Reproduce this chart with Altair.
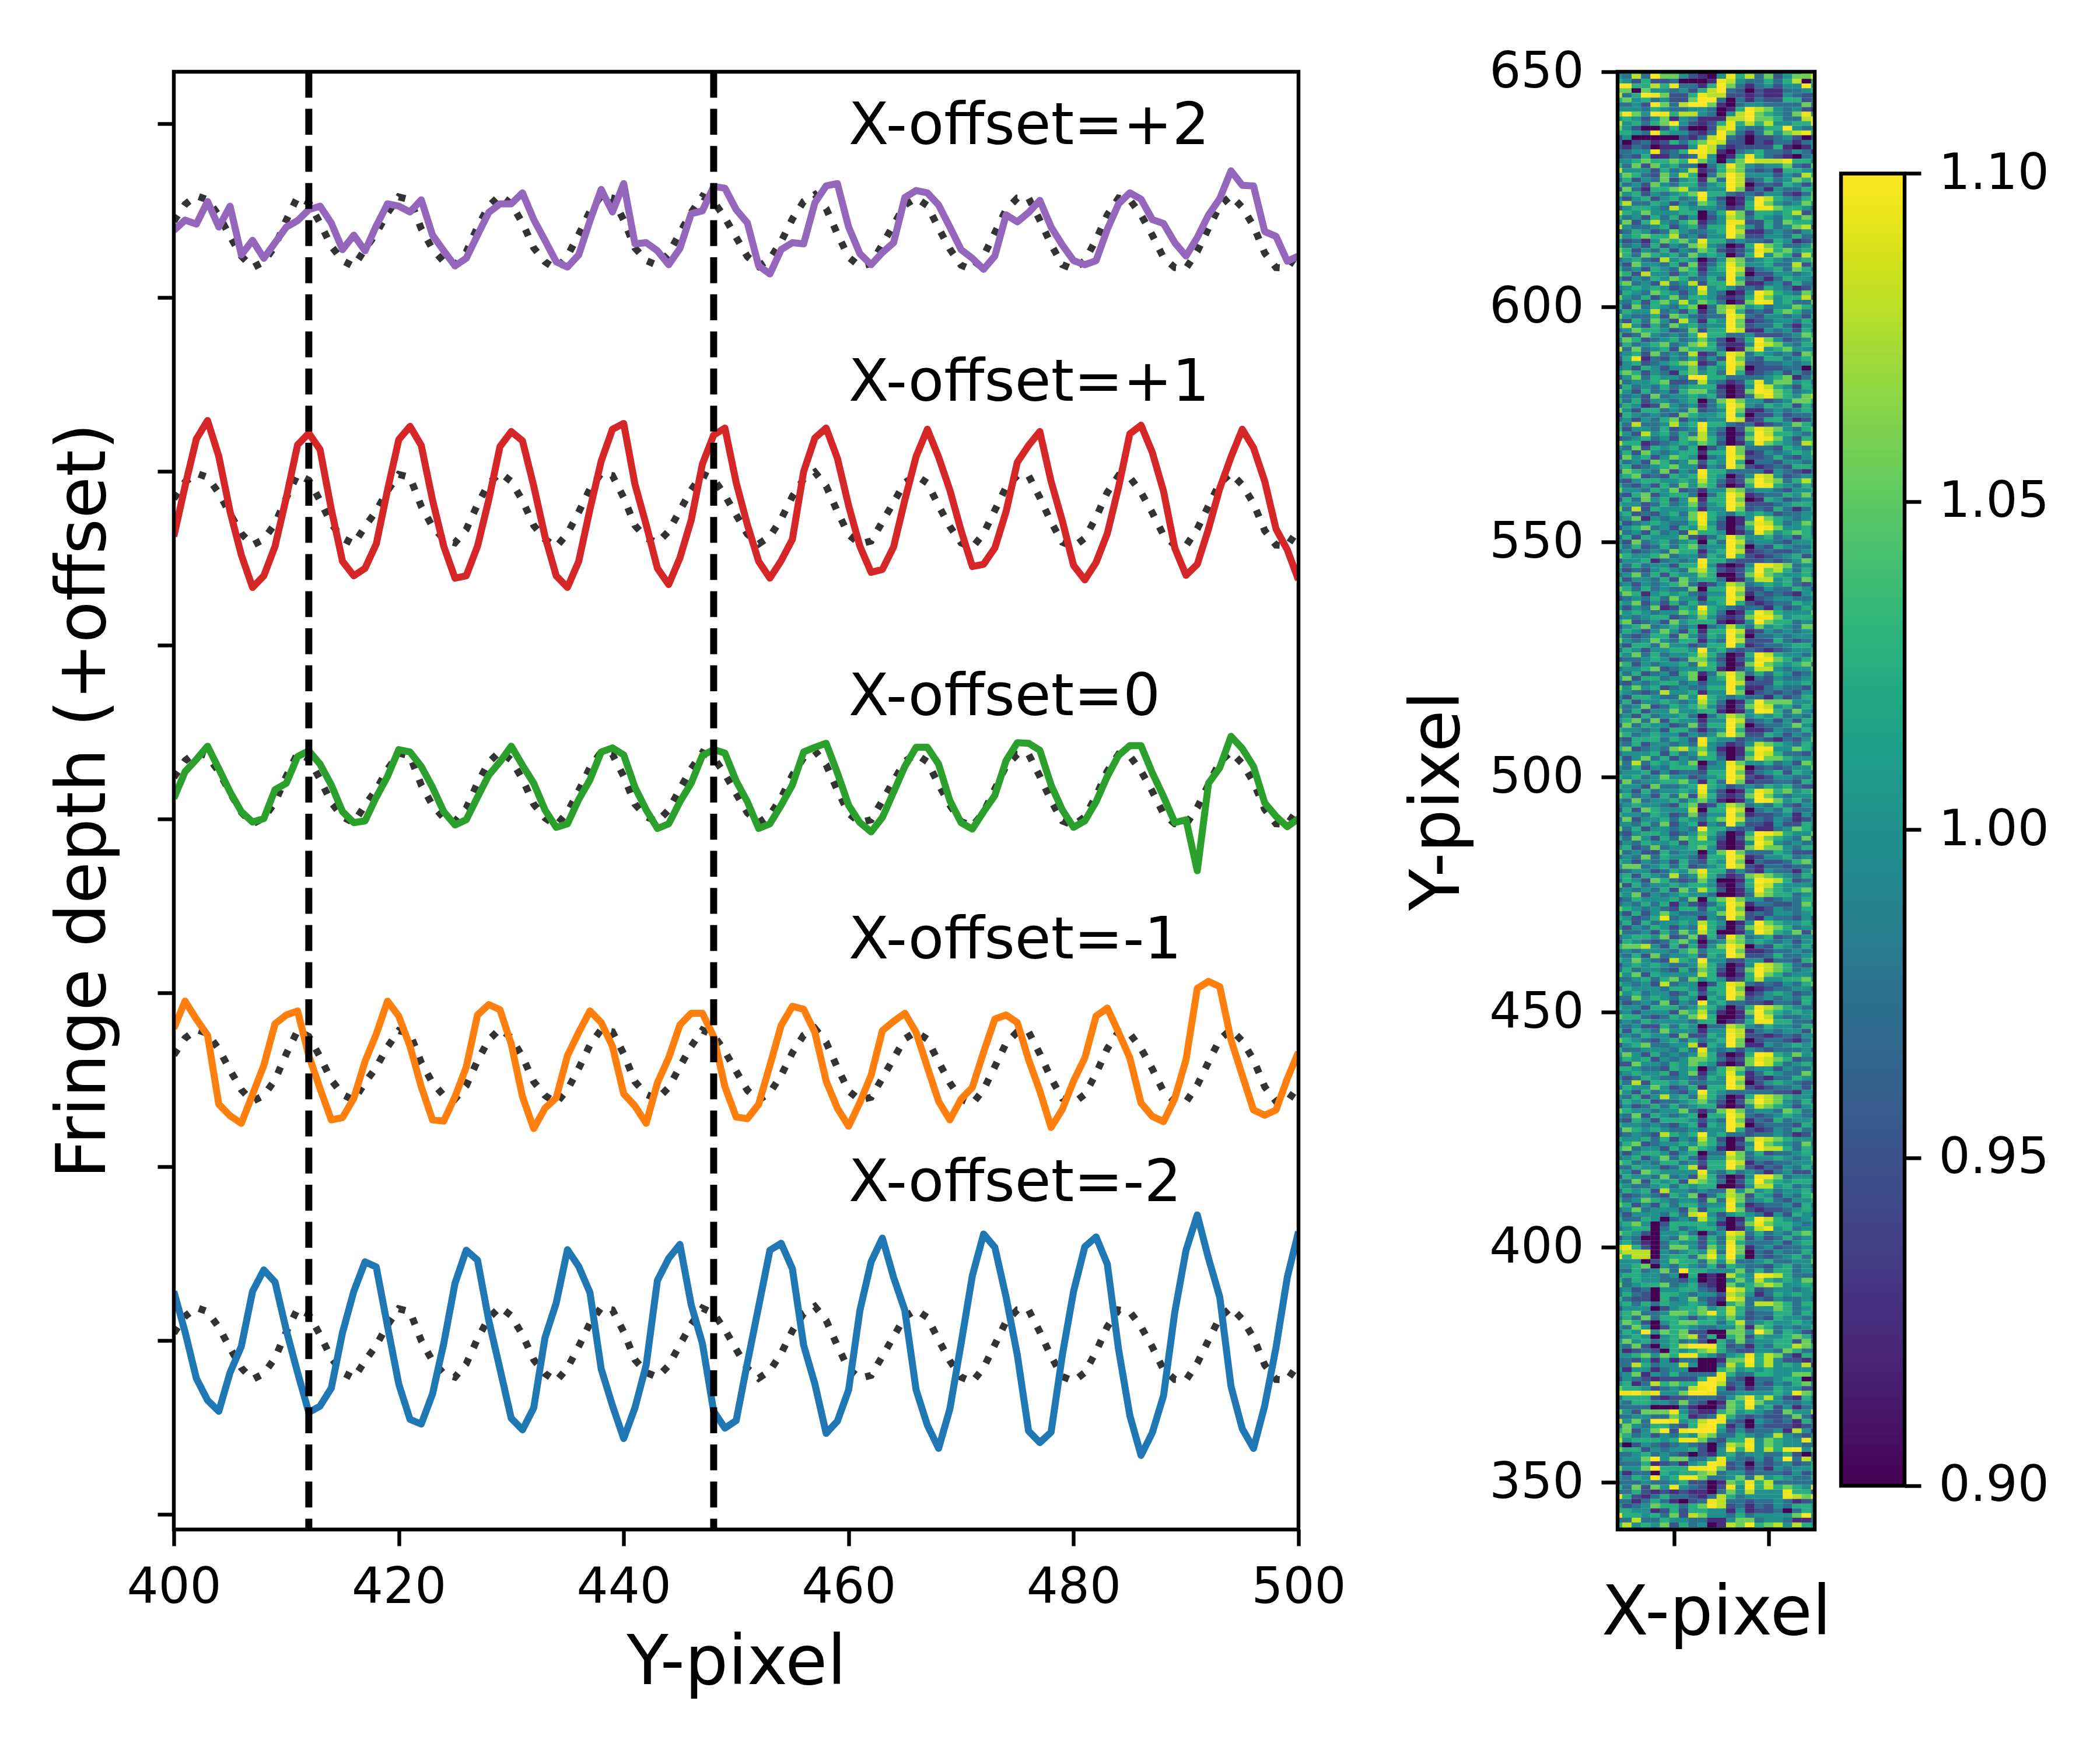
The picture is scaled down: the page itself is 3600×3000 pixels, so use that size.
import altair as alt
import numpy as np
import pandas as pd

alt.data_transformers.disable_max_rows()

y_pixel = list(range(400, 501))

# fringe depth per Y-pixel, in thousandths, around each trace's own offset
model = [18, 47, 62, 55, 28, -8, -42, -62, -52, -25, 20, 60, 50, 15, -25, -50, -60, -30, -3, 32,
         60, 55, 5, -30, -52, -58, -35, 8, 44, 63, 48, 15, -28, -52, -65, -42, -5, 35, 62, 58,
         20, -28, -50, -58, -38, -2, 33, 61, 52, 24, -10, -43, -60, -47, -17, 22, 52, 64, 40, -4,
         -44, -60, -55, -22, 12, 46, 58, 45, 6, -30, -58, -66, -42, -2, 38, 58, 58, 20, -22, -57,
         -65, -50, -14, 29, 58, 55, 29, -6, -45, -62, -63, -34, 6, 45, 62, 42, 10, -37, -62, -63, -35]
plus_two = [2, 20, 13, 52, 8, 44, -40, -15, -46, -19, 8, 19, 38, 44, 15, -31, -6, -33, 10, 48,
            44, 34, 55, -6, -33, -59, -46, -6, 33, 48, 48, 67, 21, -15, -52, -61, -40, 19, 73, 34,
            83, -21, -19, -33, -57, -29, 31, 36, 78, 75, 38, 15, -59, -73, -31, -19, -21, 50, 79, 83,
            8, -38, -57, -36, -19, 59, 71, 67, 46, 8, -31, -46, -65, -42, 29, 17, 33, 54, 8, -23,
            -50, -57, -50, 4, 48, 67, 56, 21, 14, -19, -42, -10, 29, 57, 105, 80, 79, 0, -8, -51, -42]
plus_one = [-47, 40, 121, 153, 91, -4, -79, -135, -115, -64, 20, 111, 131, 103, 0, -90, -115, -102, -60, 33,
            120, 143, 110, 16, -64, -119, -115, -64, 16, 108, 134, 118, 40, -47, -115, -135, -90, 0, 83, 138,
            148, 43, -27, -102, -130, -84, -19, 78, 128, 140, 46, -27, -90, -119, -89, -52, 65, 123, 140, 88,
            6, -64, -109, -104, -65, 16, 91, 138, 90, 33, -37, -99, -95, -67, -4, 81, 110, 134, 48, -20,
            -97, -122, -92, -42, 38, 130, 145, 98, 31, -67, -114, -95, -34, 36, 90, 138, 106, 48, -34, -70, -122]
zero = [-18, 28, 49, 72, 33, -7, -41, -59, -53, -3, 8, 54, 64, 41, 5, -41, -60, -57, -16, 20,
        66, 62, 37, 1, -41, -64, -55, -16, 22, 45, 72, 39, 8, -38, -68, -62, -20, 14, 62, 69,
        57, 1, -38, -70, -62, -24, 8, 56, 66, 60, 12, -24, -70, -62, -30, 5, 62, 70, 77, 26,
        -30, -60, -76, -51, -7, 37, 70, 70, 41, -22, -60, -71, -41, -13, 47, 78, 77, 65, 5, -38,
        -68, -57, -24, 20, 56, 73, 73, 26, -15, -60, -55, -143, 8, 35, 89, 68, 37, -26, -49, -67, -53]
minus_one = [64, 111, 80, 52, -67, -87, -100, -50, 0, 72, 87, 94, 17, -40, -94, -90, -57, 7, 54, 111,
             85, 33, -37, -94, -96, -54, -3, 87, 105, 96, 37, -54, -109, -74, -56, 17, 57, 94, 74, 33,
             -49, -70, -100, -30, 13, 70, 90, 90, 50, -37, -89, -92, -67, 0, 69, 102, 97, 57, -27, -74,
             -105, -64, -17, 60, 76, 90, 57, -3, -62, -94, -58, -38, 23, 80, 87, 74, 10, -44, -107, -76,
             -27, 13, 85, 99, 57, 13, -65, -88, -97, -57, 10, 133, 145, 136, 44, -17, -77, -86, -77, -23, 23]
minus_two = [90, 20, -60, -98, -117, -50, -5, 90, 127, 106, 23, -50, -119, -108, -77, 19, 90, 141, 132, 30,
             -70, -131, -139, -87, 0, 104, 161, 144, 40, -44, -129, -149, -111, 10, 70, 162, 133, 88, -44, -107,
             -164, -111, -37, 109, 147, 171, 67, 0, -117, -146, -133, -33, 64, 161, 173, 129, -3, -70, -155, -134,
             -80, 57, 141, 182, 114, 57, -80, -141, -181, -113, 0, 117, 189, 166, 80, -20, -151, -171, -153, -20,
             90, 167, 184, 137, -10, -124, -193, -154, -90, 54, 161, 222, 147, 80, -74, -147, -181, -107, -7, 114, 193]

trace_values = [minus_two, minus_one, zero, plus_one, plus_two]
trace_offsets = [-905, -425, 54, 535, 1014]
trace_colors = ["#1f77b4", "#ff7f0e", "#2ca02c", "#d62728", "#9467bd"]
trace_names = ["-2", "-1", "0", "+1", "+2"]

label_text = ["X-offset=+2", "X-offset=+1", "X-offset=0", "X-offset=-1", "X-offset=-2"]
label_x = [460, 460, 460, 460, 460]
label_y = [1165, 722, 180, -240, -659]
fringe_edges = [412, 448]
depth_ticks = [-1200, -900, -600, -300, 0, 300, 600, 900, 1200]

# one string per detector row, from Y-pixel 650 downwards; each digit indexes heat_levels
heat_levels = [0.90, 0.925, 0.95, 0.975, 1.00, 1.025, 1.055, 1.08, 1.095, 1.11]
heat_rows = [
    "3462755320047464635577", "4373966421048573624668", "5425223000187433535705", "9955758331596313424494", "6606443425793202113345",
    "7359862258772212114322", "5645342269930313225523", "3342963799610344333363", "4443543344301597643421", "6964985774304796543684",
    "4542461431117796653378", "7453569421258575744559", "6420025200278433559434", "5543954421396313646785", "2400000213793202234202",
    "3023125356872202133134", "2132011149731222251014", "3344823599710345332431", "2325113238401585321034", "4456556596404697778553",
    # 630
    "536264533 035864 3446326", "744425347 125763 2315544", "465326475 036974 4424375", "352436245 163972 3534657", "534264355 245970 2325425",
    "263155674 344961 3143355", "645243456 955323 2442136", "424524534 842014 9754356", "573354243 653015 9643464", "245543754 443125 8865542",
    "754644455 035862 5545724", "534253524 024763 5435465", "362574356 134882 2536554", "743345245 255964 2534672", "235423643 345971 1343245",
    "645655734 244962 2443533", "423146564 855343 3254124", "534252436 743015 9653346", "652435243 652124 8756455", "753654536 454025 9465274",
    "345327454 024763 4543456", "426443526 135864 4533725", "534254365 145971 3453653", "652744245 244960 2244345", "424354653 353952 3135443",
    "563427347 255961 1342533", "345454234 845423 2543124", "254365424 743014 9754364", "643524635 542125 8645572", "435256474 653016 9845336",
    # 600
    "526354356 036764 5344654", "354473425 136852 3256534", "643352653 233973 2443425", "425364274 154961 2344353", "574253645 344962 3353144",
    "346554236 255971 1434253", "523643435 955334 2223465", "465234534 642025 9642346", "253456346 752114 8764355", "736345265 553016 9456444",
    "345263437 125873 5434265", "258132435 242963 2553456", "145234567 125972 2334346", "342542446 354960 2223305", "565243156 453951 2342424",
    "246354439 955333 3456135", "634456223 743125 8466453", "253435345 551014 9754254", "642534256 642016 9865345", "434263445 452013 7865467",
    "535244345 036864 4234665", "354126434 135974 3545253", "642553436 234961 1343454", "154343265 445950 2242334", "342435624 344971 2553124",
    "537334745 955323 1234653", "524435234 843026 8764356", "642745353 742015 9755435", "234534256 753026 9864255", "755123454 652014 8654376",
    # 570
    "436254535 024963 3325435", "352643455 155961 2434546", "264524654 034972 2353245", "534265346 254950 3324434", "452345644 143962 1232554",
    "265436243 955333 3143213", "456232545 854024 8742344", "324554454 753126 9763574", "532425364 652015 9854353", "644354623 144763 4432445",
    "325624553 035971 2335463", "253645247 155960 1542344", "544235346 245972 2234554", "637254445 144962 3253135", "452324536 854354 5423344",
    "346143446 953014 9654345", "523454335 842016 8753464", "245634254 752025 9864453", "634253427 554013 8645653", "352544462 135864 4534254",
    "426345345 053973 4432445", "535235356 344960 3254335", "342343655 145971 2322345", "654456344 254952 1234524", "244513434 955322 2323465",
    "535344255 841014 9876344", "423245436 752125 9675354", "346352544 650026 8654453", "524435264 553014 7745365", "342434563 124763 4545324",
    # 540
    "653534336 055972 2433542", "465145453 244961 3232145", "234353644 155970 2344334", "546242535 345952 1233545", "424361254 954323 3142354",
    "645434465 753015 9754446", "343455234 642126 8864555", "562342645 551014 9655344", "245634534 034753 6454366", "354246425 155971 2434345",
    "532355264 254960 3343444", "643464355 143972 2253234", "425536442 355951 2334553", "354244554 945323 2123445", "546353445 753015 9754435",
    "233454236 642024 8865356", "652434453 753016 9654563", "344562344 551024 7743446", "535234256 136863 5354235", "462553446 045960 3243345",
    "324345534 244972 2254454", "646452343 355951 1343325", "543237445 144960 2323244", "425543364 854343 3142355", "352445434 753015 9666445",
    "534623545 642026 8745354", "635244644 551014 9853643", "342534453 035764 5453435", "456362544 144972 3424255", "263544236 255960 2334643",
    # 510
    "544342553 134951 1243354", "653454424 346962 2542435", "325553542 954423 3213246", "435244343 843124 7654354", "562343675 641016 9844653",
    "344452534 752015 8753325", "524635243 553026 9665444", "637354546 034864 4534265", "435243555 144970 2323446", "344524233 255961 3452543",
    "545346442 345972 1244335", "263445564 153961 2233254", "544263345 954234 3545322", "342534454 842015 8756456", "653425362 752126 9643445",
    "436344535 641014 9864535", "345443256 125763 4353244", "252654447 055970 3435334", "544354236 244961 2234142", "362445354 356973 3243124",
    "443536245 143952 2142254", "635244343 955323 1134653", "324554234 653015 9875446", "536425365 742026 8654362", "243544525 551014 9743434",
    "452363445 641016 8664355", "634225344 046963 3354222", "343635443 155971 2445343", "542434253 254960 3223564", "466345352 345972 1332334",
    # 480
    "234423546 855242 1433146", "452543734 753126 7654354", "354265323 640015 9875234", "625344545 541025 8754443", "343435264 752014 9654565",
    "546243454 430013 7655345", "235444536 056864 4234355", "343535142 135971 3322364", "654343255 254960 1243355", "425246433 346972 3244345",
    "542358344 143962 1433242", "352534454 754014 9654453", "424354243 853026 8765344", "633425364 750014 9754626", "345546236 152863 4523344",
    "254323564 034764 5434245", "566742525 146970 3254353", "343444356 355961 1233434", "435263445 254972 2353345", "546432754 944224 4133256",
    "245454334 753014 8765323", "353443253 652026 9765345", "646254444 751015 9653443", "334535636 454125 7445564", "543427344 025873 2324356",
    "254443554 155960 1233442", "645344235 245971 2454234", "336454354 054962 3434354", "423436243 945332 2133253", "544255534 653025 8765433",
    # 450
    "342444265 741016 9654545", "655323546 850014 9743345", "343544443 550125 8855332", "434225354 033764 3544355", "525436444 144871 3434426",
    "343544262 254972 2123244", "654324535 345960 2332135", "245633447 154961 1434545", "533444353 843424 3233342", "464253434 752015 9854645",
    "354524346 653126 8765233", "226443546 541016 9753454", "554332545 035763 4424335", "345445246 145851 3543364", "423543343 254971 2133544",
    "537255453 344960 2454323", "354464235 155972 1233425", "642534324 954333 3322144", "435247453 753015 8765443", "354523345 642026 9764353",
    "242353534 551014 7654245", "654434463 136863 4436534", "436254345 055973 2345433", "325425554 243961 3253445", "544343245 154970 2333254",
    "365454334 344952 1243534", "234327545 945332 3343125", "544535243 752016 8765444", "356234454 653024 9654363", "563442536 541015 9775354",
    # 420
    "424554245 033863 5233454", "345246353 144763 4454346", "653435534 255971 3233445", "335442357 155962 1324353", "542654444 843534 3134225",
    "254436342 752014 8863443", "436254527 653025 9654554", "543345354 550014 7745342", "354527443 433746 4534453", "423432546 135762 5424356",
    "534654344 263863 4532445", "652425355 344951 2334253", "346344426 255962 1223454", "424443537 842454 3142543", "533540343 753015 9754345",
    "456402555 541026 8655434", "345503534 553014 7845344", "654204453 034873 5343565", "243004365 253762 4235345", "453103544 253853 3342455",
    "785203664 264961 3423344", "677704345 473960 3243354", "857704553 685950 3234535", "444024655 364733 4533446", "445604354 352543 3245343",
    "335346395 544463 5355344", "455443405 010754 9875333", "535443324 010464 7545466", "634556345 210645 6764454", "342304455 320875 2344345",
    # 390
    "353205543 442764 1354544", "532205346 321873 3243343", "453535445 420563 7765355", "244402455 645753 4465345", "456334665 685752 3355354",
    "353635542 454642 3254434", "465204566 553573 4544543", "436402554 334461 6534345", "354946562 200664 9635421", "345404567 250562 5445652",
    "464534534 205363 4455262", "436204579 995231 4355765", "412320545 675322 4436533", "445646588 542458 5763154", "332414133 001669 5742213",
    "337534474 003758 5745471", "414413440 005645 4544444", "346143533 338533 5544663", "243212222 598320 3345501", "451375655 997230 3243563",
    "655423437 894131 3354422", "889784469 983344 4454865", "355521223 332468 5742153", "435544363 201659 6443343", "333300031 002658 4524134",
    "642666842 115645 4326447", "334433651 238532 3223631", "746399845 798320 4323153", "364355325 895130 3222123", "562469289 994242 3341741",
    # 360
    "653424354 763354 3474324", "745554588 632558 4654484", "402432343 203769 4654433", "655243445 204858 4758946", "334534320 214534 4335203",
    "344694663 358432 4249373", "333512314 598230 3234235", "644695558 896231 3143445", "413305455 673442 3332424", "435494588 633463 7454335",
    "333433452 201658 5733333", "536264843 202849 5756549", "335212121 103647 4448552", "852135332 137534 4448768", "331353102 387332 3343123",
    "423465535 697231 3243554", "554412525 544141 2230354", "955453627 644353 4444694", "337335443 311466 3443113", "574546253 401769 5674754",
    "463435344 312544 5345445",
]
heat_top = 650
heat_columns = list(range(22))

colorbar_ticks = [0.90, 0.95, 1.00, 1.05, 1.10]
heat_ticks = [350, 400, 450, 500, 550, 600, 650]
font = "DejaVu Sans"

traces = []
for name, values, offset in zip(trace_names, trace_values, trace_offsets):
    traces.append(pd.DataFrame({
        "y_pixel": y_pixel,
        "depth": [v + offset for v in values],
        "model": [m + offset for m in model],
        "trace": name,
    }))
traces = pd.concat(traces)

x_scale = alt.Scale(domain=[400, 500], nice=False, zero=False)
y_scale = alt.Scale(domain=[-1226, 1290], nice=False, zero=False)
x_axis = alt.Axis(values=list(range(400, 501, 20)), format="d", title="Y-pixel", titlePadding=30)
y_axis = alt.Axis(values=depth_ticks, labels=False, title="Fringe depth (+offset)", titlePadding=62)

model_lines = (
    alt.Chart(traces)
    .mark_line(color="black", opacity=0.8, strokeWidth=12, strokeDash=[12, 19.8], strokeCap="butt", clip=True)
    .encode(
        x=alt.X("y_pixel:Q", scale=x_scale, axis=x_axis),
        y=alt.Y("model:Q", scale=y_scale, axis=y_axis),
        detail="trace:N",
    )
)
data_lines = (
    alt.Chart(traces)
    .mark_line(strokeWidth=12, strokeJoin="round", clip=True)
    .encode(
        x=alt.X("y_pixel:Q", scale=x_scale, axis=x_axis),
        y=alt.Y("depth:Q", scale=y_scale, axis=y_axis),
        color=alt.Color(
            "trace:N",
            scale=alt.Scale(domain=trace_names, range=trace_colors),
            legend=None,
        ),
    )
)
fringe_rules = (
    alt.Chart(pd.DataFrame({"y_pixel": fringe_edges}))
    .mark_rule(color="black", strokeWidth=12, strokeDash=[44.4, 19.2])
    .encode(x=alt.X("y_pixel:Q", scale=x_scale, axis=x_axis))
)
labels = (
    alt.Chart(pd.DataFrame({"x": label_x, "y": label_y, "text": label_text}))
    .mark_text(align="left", baseline="alphabetic", font=font, fontSize=100.5, color="black")
    .encode(
        x=alt.X("x:Q", scale=x_scale, axis=x_axis),
        y=alt.Y("y:Q", scale=y_scale, axis=y_axis),
        text="text:N",
    )
)


def frame(width, height):
    return (
        alt.Chart(pd.DataFrame({"a": [0]}))
        .mark_rect(fillOpacity=0, stroke="black", strokeWidth=6.4)
        .encode(x=alt.value(0), x2=alt.value(width), y=alt.value(0), y2=alt.value(height))
    )


left = alt.layer(model_lines, data_lines, fringe_rules, labels, frame(1928, 2499)).properties(width=1928, height=2499)

spacer = (
    alt.Chart(pd.DataFrame({"a": [0]}))
    .mark_point(opacity=0)
    .encode(x=alt.value(0), y=alt.value(0))
    .properties(width=457, height=2499)
)

cells = []
for i, row in enumerate(heat_rows):
    for col, digit in zip(heat_columns, row.replace(" ", "")):
        cells.append((col - 0.5, col + 0.52, heat_top - i - 0.52, heat_top - i + 0.5, heat_levels[int(digit)]))
cells = pd.DataFrame(cells, columns=["x0", "x1", "y0", "y1", "value"])

viridis = alt.Scale(scheme="viridis", domain=[0.9, 1.1], clamp=True)

heat = (
    alt.Chart(cells)
    .mark_rect(clip=True, strokeWidth=0)
    .encode(
        x=alt.X(
            "x0:Q",
            title="X-pixel",
            scale=alt.Scale(domain=[0.02, 20.89], nice=False, zero=False),
            axis=alt.Axis(values=[6, 16], labels=False, titlePadding=56),
        ),
        x2="x1:Q",
        y=alt.Y(
            "y0:Q",
            title="Y-pixel",
            scale=alt.Scale(domain=[340, 650], nice=False, zero=False),
            axis=alt.Axis(values=heat_ticks, format="d", titlePadding=48),
        ),
        y2="y1:Q",
        color=alt.Color("value:Q", scale=viridis, legend=None),
    )
)
middle = alt.layer(heat, frame(338, 2499)).properties(width=338, height=2499)

ramp_levels = np.linspace(0.9, 1.1, 257)
ramp = pd.DataFrame({
    "x0": 0,
    "x1": 1,
    "y0": ramp_levels[:-1],
    "y1": ramp_levels[1:] + 0.0002,
    "value": (ramp_levels[:-1] + ramp_levels[1:]) / 2,
})
bar_x_scale = alt.Scale(domain=[0, 1], nice=False)
bar_y_scale = alt.Scale(domain=[0.89333, 1.11551], nice=False, zero=False)
bar_axis = alt.Axis(orient="right", values=colorbar_ticks, format=".2f", title=None)
colorbar = (
    alt.Chart(ramp)
    .mark_rect(strokeWidth=0)
    .encode(
        x=alt.X("x0:Q", scale=bar_x_scale, axis=None),
        x2="x1:Q",
        y=alt.Y("y0:Q", scale=bar_y_scale, axis=bar_axis),
        y2="y1:Q",
        color=alt.Color("value:Q", scale=viridis, legend=None),
    )
)
colorbar_frame = (
    alt.Chart(pd.DataFrame({"x0": [0], "x1": [1], "y0": [0.9], "y1": [1.1]}))
    .mark_rect(fillOpacity=0, stroke="black", strokeWidth=6.4)
    .encode(
        x=alt.X("x0:Q", scale=bar_x_scale, axis=None),
        x2="x1:Q",
        y=alt.Y("y0:Q", scale=bar_y_scale, axis=bar_axis),
        y2="y1:Q",
    )
)
right = alt.layer(colorbar, colorbar_frame).properties(width=109, height=2499)

chart = (
    alt.hconcat(left, spacer, middle, right, spacing=45, bounds="flush", padding={"left": 77, "top": 72, "right": 20, "bottom": 40})
    .resolve_scale(color="independent")
    .configure_view(stroke="transparent")
    .configure_axis(
        grid=False,
        domain=False,
        ticks=True,
        tickSize=28,
        tickWidth=6.4,
        tickColor="black",
        labelFont=font,
        labelFontSize=85,
        labelColor="black",
        labelPadding=30,
        labelLimit=500,
        labelFlush=False,
        labelOverlap=False,
        titleFont=font,
        titleFontSize=117,
        titleFontWeight="normal",
        titleColor="black",
    )
)

chart.save("out.html", embed_options={"renderer": "svg", "actions": False})
